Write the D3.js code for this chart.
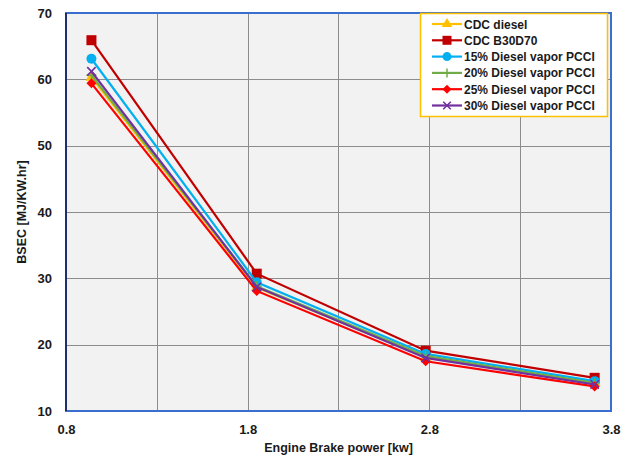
<!DOCTYPE html>
<html>
<head>
<meta charset="utf-8">
<script src="https://cdn.jsdelivr.net/npm/d3@7"></script>
<style>
  html, body { margin: 0; padding: 0; background: #ffffff; }
  svg { display: block; }
  text { font-family: "Liberation Sans", Arial, sans-serif; font-weight: bold; fill: #1a1a1a; }
</style>
</head>
<body>
<svg id="chart" width="630" height="458"></svg>
<script>
// Engine brake power (kW) at the four load points
const power = [0.94, 1.85, 2.78, 3.71];

// BSEC (MJ/kW.hr) per fuel / combustion mode
const cdcDiesel   = [60.3, 28.6, 18.1, 14.3];
const cdcB30D70   = [65.9, 30.7, 19.1, 15.0];
const vapor15     = [63.1, 29.4, 18.6, 14.5];
const vapor20     = [60.6, 28.8, 18.3, 14.2];
const vapor25     = [59.4, 28.1, 17.5, 13.7];
const vapor30     = [61.2, 28.7, 18.0, 14.0];

const seriesNames = ["CDC diesel", "CDC B30D70", "15% Diesel vapor PCCI",
                     "20% Diesel vapor PCCI", "25% Diesel vapor PCCI", "30% Diesel vapor PCCI"];
const seriesValues = [cdcDiesel, cdcB30D70, vapor15, vapor20, vapor25, vapor30];
const seriesColors = ["#FFC000", "#C00000", "#00B0F0", "#70AD47", "#FF0000", "#7030A0"];
const seriesMarkers = ["triangle", "square", "circle", "plus", "diamond", "cross"];

const xTicks = [0.8, 1.8, 2.8, 3.8];
const xGrid  = [1.3, 1.8, 2.3, 2.8, 3.3];
const yTicks = [10, 20, 30, 40, 50, 60, 70];

const svg = d3.select("#chart");
const plot = { left: 66, right: 611, top: 13, bottom: 411 };

const x = d3.scaleLinear().domain([0.8, 3.8]).range([plot.left, plot.right]);
const y = d3.scaleLinear().domain([10, 70]).range([plot.bottom, plot.top]);

// plot background
svg.append("rect")
  .attr("x", plot.left).attr("y", plot.top)
  .attr("width", plot.right - plot.left).attr("height", plot.bottom - plot.top)
  .attr("fill", "#F2F2F2");

// grid
const grid = svg.append("g").attr("stroke", "#8c8c8c").attr("stroke-width", 1);
grid.selectAll("line.v").data(xGrid).join("line")
  .attr("x1", d => Math.round(x(d)) + 0.5).attr("x2", d => Math.round(x(d)) + 0.5)
  .attr("y1", plot.top).attr("y2", plot.bottom);
grid.selectAll("line.h").data(yTicks.slice(1, -1)).join("line")
  .attr("y1", d => Math.round(y(d)) + 0.5).attr("y2", d => Math.round(y(d)) + 0.5)
  .attr("x1", plot.left).attr("x2", plot.right);

// frame
svg.append("rect")
  .attr("x", plot.left).attr("y", plot.top)
  .attr("width", plot.right - plot.left).attr("height", plot.bottom - plot.top)
  .attr("fill", "none").attr("stroke", "#3A6FD0").attr("stroke-width", 2);
svg.append("line")
  .attr("x1", plot.left).attr("x2", plot.left)
  .attr("y1", plot.top).attr("y2", plot.bottom)
  .attr("stroke", "#1F2F6B").attr("stroke-width", 2);

// axes (labels only, no tick marks)
const yAxis = d3.axisLeft(y).tickValues(yTicks).tickSize(0).tickPadding(14);
svg.append("g").attr("transform", `translate(${plot.left},0)`).call(yAxis)
  .call(g => g.select(".domain").remove())
  .selectAll("text").style("font-size", "13px").style("font-family", "Liberation Sans, Arial, sans-serif")
  .style("font-weight", "bold").attr("fill", "#1a1a1a");

const xAxis = d3.axisBottom(x).tickValues(xTicks).tickSize(0).tickPadding(14).tickFormat(d3.format(".1f"));
svg.append("g").attr("transform", `translate(0,${plot.bottom})`).call(xAxis)
  .call(g => g.select(".domain").remove())
  .selectAll("text").style("font-size", "13px").style("font-family", "Liberation Sans, Arial, sans-serif")
  .style("font-weight", "bold").attr("fill", "#1a1a1a");

// axis titles
svg.append("text")
  .attr("x", (plot.left + plot.right) / 2).attr("y", 452)
  .attr("text-anchor", "middle").style("font-size", "12.5px")
  .text("Engine Brake power [kw]");
svg.append("text")
  .attr("transform", `translate(26,${(plot.top + plot.bottom) / 2}) rotate(-90)`)
  .attr("text-anchor", "middle").style("font-size", "12.5px")
  .text("BSEC [MJ/KW.hr]");

// markers
function drawMarker(sel, type, color, size) {
  const s = size;
  if (type === "triangle") {
    sel.append("path").attr("d", d3.symbol(d3.symbolTriangle, s * s * 0.6)()).attr("fill", color);
  } else if (type === "square") {
    sel.append("rect").attr("x", -s / 2).attr("y", -s / 2).attr("width", s).attr("height", s).attr("fill", color);
  } else if (type === "circle") {
    sel.append("circle").attr("r", s / 2).attr("fill", color);
  } else if (type === "diamond") {
    sel.append("path").attr("d", `M0,${-s / 2}L${s / 2},0L0,${s / 2}L${-s / 2},0Z`).attr("fill", color);
  } else if (type === "plus") {
    sel.append("path").attr("d", `M${-s / 2},0H${s / 2}M0,${-s / 2}V${s / 2}`)
      .attr("stroke", color).attr("stroke-width", 1.5);
  } else if (type === "cross") {
    const h = s * 0.42;
    sel.append("path").attr("d", `M${-h},${-h}L${h},${h}M${-h},${h}L${h},${-h}`)
      .attr("stroke", color).attr("stroke-width", 1.6);
  }
}

const line = d3.line().x((d, i) => x(power[i])).y(d => y(d));

seriesValues.forEach((vals, k) => {
  const g = svg.append("g");
  g.append("path").datum(vals).attr("d", line)
    .attr("fill", "none").attr("stroke", seriesColors[k]).attr("stroke-width", 2.2);
  vals.forEach((v, i) => {
    const m = g.append("g").attr("transform", `translate(${x(power[i])},${y(v)})`);
    drawMarker(m, seriesMarkers[k], seriesColors[k], 10);
  });
});

// legend
const legend = svg.append("g");
legend.append("rect")
  .attr("x", 420.5).attr("y", 13.5).attr("width", 187).attr("height", 103)
  .attr("fill", "#ffffff").attr("stroke", "#FFC000").attr("stroke-width", 1.5);
seriesNames.forEach((name, k) => {
  const ly = 24 + k * 16.3;
  const item = legend.append("g");
  item.append("line").attr("x1", 432).attr("x2", 462).attr("y1", ly).attr("y2", ly)
    .attr("stroke", seriesColors[k]).attr("stroke-width", 2.2);
  const m = item.append("g").attr("transform", `translate(447,${ly})`);
  drawMarker(m, seriesMarkers[k], seriesColors[k], 9);
  item.append("text").attr("x", 464).attr("y", ly + 4.5)
    .style("font-size", "12px").text(name);
});
</script>
</body>
</html>
